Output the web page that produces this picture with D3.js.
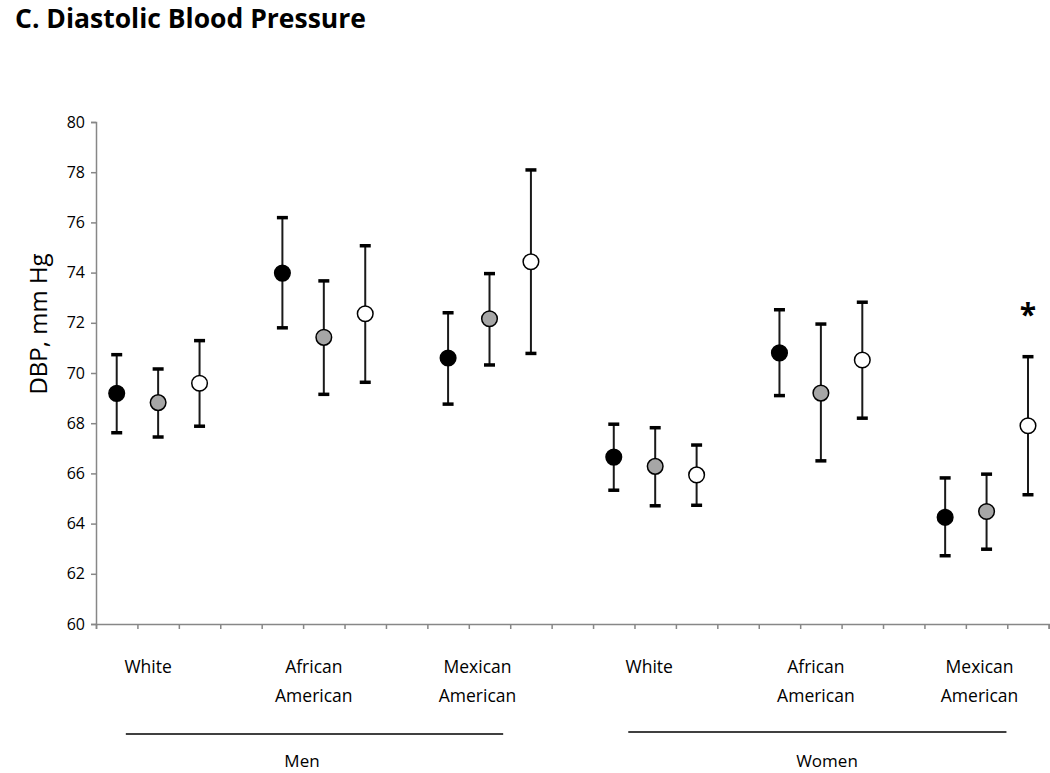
<!DOCTYPE html>
<html>
<head>
<meta charset="utf-8">
<script src="https://cdn.jsdelivr.net/npm/d3@7"></script>
<style>
  html, body { margin: 0; padding: 0; background: #fff; }
  svg { display: block; }
  text { font-family: "Open Sans", sans-serif; fill: #000; }
</style>
</head>
<body>
<svg id="chart" width="1050" height="773"></svg>
<script>
// ---- data ----
const groups = ["Men White", "Men African American", "Men Mexican American",
                "Women White", "Women African American", "Women Mexican American"];
const groupLabels = [["White"], ["African", "American"], ["Mexican", "American"],
                     ["White"], ["African", "American"], ["Mexican", "American"]];
const sexLabels = ["Men", "Women"];
const seriesNames = ["black", "gray", "white"];
const seriesFill = ["#000000", "#a6a6a6", "#ffffff"];
// mean DBP per group, series black / gray / white
const meanBlack = [69.19, 73.98, 70.60, 66.65, 70.80, 64.25];
const meanGray  = [68.82, 71.42, 72.16, 66.28, 69.20, 64.48];
const meanWhite = [69.59, 72.36, 74.43, 65.94, 70.52, 67.90];
const upperBlack = [70.73, 76.19, 72.40, 67.96, 72.52, 65.82];
const upperGray  = [70.16, 73.67, 73.96, 67.82, 71.95, 65.97];
const upperWhite = [71.29, 75.07, 78.09, 67.13, 72.82, 70.65];
const lowerBlack = [67.62, 71.80, 68.76, 65.33, 69.10, 62.72];
const lowerGray  = [67.45, 69.15, 70.32, 64.71, 66.50, 62.98];
const lowerWhite = [67.88, 69.63, 70.78, 64.73, 68.20, 65.15];
const yTicks = [60, 62, 64, 66, 68, 70, 72, 74, 76, 78, 80];
const significant = [{group: 5, series: 2, mark: "*"}];

// ---- layout ----
const svg = d3.select("#chart");
const x = d3.scaleLinear().domain([0, 23]).range([96, 1048.7]);
const y = d3.scaleLinear().domain([60, 80]).range([624, 122]);
const axisColor = "#878787";

// category index for group g, series s: groups are 3 categories wide, separated by 1 empty slot
const catIndex = (g, s) => g * 4 + s;
const catCenter = (g, s) => x(catIndex(g, s) + 0.5);

// title
svg.append("text").attr("x", 15).attr("y", 28)
  .style("font-size", "26.5px").style("font-weight", "bold")
  .text("C. Diastolic Blood Pressure");

// y axis
const yAxis = d3.axisLeft(y).tickValues(yTicks).tickSize(5).tickPadding(6).tickFormat(d3.format("d"));
const gy = svg.append("g").attr("transform", `translate(${x(0)},0)`).call(yAxis);
gy.select(".domain").attr("stroke", axisColor).attr("stroke-width", 1.5);
gy.selectAll(".tick line").attr("stroke", axisColor).attr("stroke-width", 1.5);
gy.selectAll(".tick text").style("font-size", "16px").style("font-family", "'Open Sans', sans-serif").attr("fill", "#000");

// x axis (category ticks)
const xAxis = d3.axisBottom(x).tickValues(d3.range(0, 24)).tickSize(5).tickFormat("");
const gx = svg.append("g").attr("transform", `translate(0,${y(60)})`).call(xAxis);
gx.select(".domain").attr("stroke", axisColor).attr("stroke-width", 1.5);
gx.selectAll(".tick line").attr("stroke", axisColor).attr("stroke-width", 1.5);

// y axis title
svg.append("text")
  .attr("transform", `translate(47,324) rotate(-90)`)
  .attr("text-anchor", "middle")
  .style("font-size", "24px")
  .text("DBP, mm Hg");

// build point records
const means = [meanBlack, meanGray, meanWhite];
const uppers = [upperBlack, upperGray, upperWhite];
const lowers = [lowerBlack, lowerGray, lowerWhite];
const pts = [];
groups.forEach((g, gi) => {
  seriesNames.forEach((s, si) => {
    pts.push({g: gi, s: si, mean: means[si][gi], hi: uppers[si][gi], lo: lowers[si][gi]});
  });
});

const pg = svg.append("g");
// error bars
pg.selectAll("line.whisker").data(pts).join("line").attr("class", "whisker")
  .attr("x1", d => catCenter(d.g, d.s)).attr("x2", d => catCenter(d.g, d.s))
  .attr("y1", d => y(d.hi)).attr("y2", d => y(d.lo))
  .attr("stroke", "#1a1a1a").attr("stroke-width", 2);
["hi", "lo"].forEach(k => {
  pg.selectAll("line.cap-" + k).data(pts).join("line").attr("class", "cap-" + k)
    .attr("x1", d => catCenter(d.g, d.s) - 5.5).attr("x2", d => catCenter(d.g, d.s) + 5.5)
    .attr("y1", d => y(d[k])).attr("y2", d => y(d[k]))
    .attr("stroke", "#000").attr("stroke-width", 3.5);
});
// markers
pg.selectAll("circle").data(pts).join("circle")
  .attr("cx", d => catCenter(d.g, d.s)).attr("cy", d => y(d.mean))
  .attr("r", 7.8)
  .attr("fill", d => seriesFill[d.s])
  .attr("stroke", "#000").attr("stroke-width", 1.5);

// significance marks
svg.selectAll("text.sig").data(significant).join("text").attr("class", "sig")
  .attr("x", d => catCenter(d.group, d.series))
  .attr("y", d => y(uppers[d.series][d.group]) - 32)
  .attr("text-anchor", "middle")
  .style("font-size", "30px").style("font-weight", "bold")
  .text(d => d.mark);

// group labels
const labelOffset = [-10, -10, -12, -6, -5, -7];
groupLabels.forEach((lines, gi) => {
  const cx = catCenter(gi, 1) + labelOffset[gi];
  const t = svg.append("text").attr("text-anchor", "middle").style("font-size", "17.5px");
  lines.forEach((ln, li) => {
    t.append("tspan").attr("x", cx).attr("y", 673 + li * 29).text(ln);
  });
});

// sex bracket lines and labels
const sexSpan = [[0.72, 9.83], [12.85, 21.98]];
const sexLineY = [734, 732];
const sexLabelX = [302, 827];
sexLabels.forEach((lab, i) => {
  svg.append("line")
    .attr("x1", x(sexSpan[i][0])).attr("x2", x(sexSpan[i][1]))
    .attr("y1", sexLineY[i]).attr("y2", sexLineY[i])
    .attr("stroke", "#000").attr("stroke-width", 1.3);
  svg.append("text").attr("x", sexLabelX[i]).attr("y", 767)
    .attr("text-anchor", "middle").style("font-size", "17px").text(lab);
});
</script>
</body>
</html>
